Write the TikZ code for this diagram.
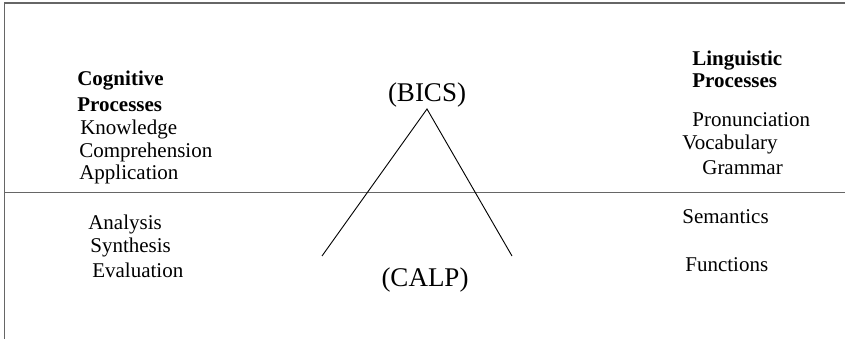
\documentclass[tikz,border=0pt]{standalone}
\usepackage{fontspec}
\setmainfont{Liberation Serif}
\usetikzlibrary{positioning}

\begin{document}
\begin{tikzpicture}[x=0.6pt, y=-0.6pt,
  every node/.style={font=\fontsize{12.6}{14}\selectfont, inner sep=0pt},
  head/.style={font=\fontsize{12.6}{14}\selectfont\bfseries, anchor=west},
  item/.style={anchor=west},
  level/.style={font=\fontsize{16.2}{18}\selectfont},
  frame/.style={draw=black!60, line width=1pt},
  leg/.style={line width=0.55pt},
]
  \useasboundingbox (0,0) rectangle (845,339);

  % Frame and dividing line
  \draw[frame] (845,3) -- (4.5,3) -- (4.5,339);
  \draw[frame] (4.5,192.5) -- (845,192.5);

  % Cognitive processes (left)
  \node[head] (cog)  at (77,80.5)  {Cognitive};
  \node[head] (cogp) at (77,104.5) {Processes};
  \node[item] (know) at (80,129.5) {Knowledge};
  \node[item] (comp) at (79,152.5) {Comprehension};
  \node[item] (appl) at (79,174.5) {Application};
  \node[item] (anal) at (88,224.5) {Analysis};
  \node[item] (synt) at (90,247.5) {Synthesis};
  \node[item] (eval) at (92,270.5) {Evaluation};

  % Linguistic processes (right)
  \node[head] (ling)  at (692,60.5)  {Linguistic};
  \node[head] (lingp) at (692,80.5)  {Processes};
  \node[item] (pron)  at (692,119.5) {Pronunciation};
  \node[item] (voca)  at (682,144.5) {Vocabulary};
  \node[item] (gram)  at (702,167.5) {Grammar};
  \node[item] (sema)  at (682,216.5) {Semantics};
  \node[item] (func)  at (685,264.5) {Functions};

  % BICS / CALP
  \node[level] (bics) at (427,95)  {(BICS)};
  \node[level] (calp) at (425,280) {(CALP)};

  \coordinate (apex) at (427,109);
  \coordinate (legl) at (322,256);
  \coordinate (legr) at (512,256);
  \draw[leg] (legl) -- (apex) -- (legr);
\end{tikzpicture}
\end{document}
